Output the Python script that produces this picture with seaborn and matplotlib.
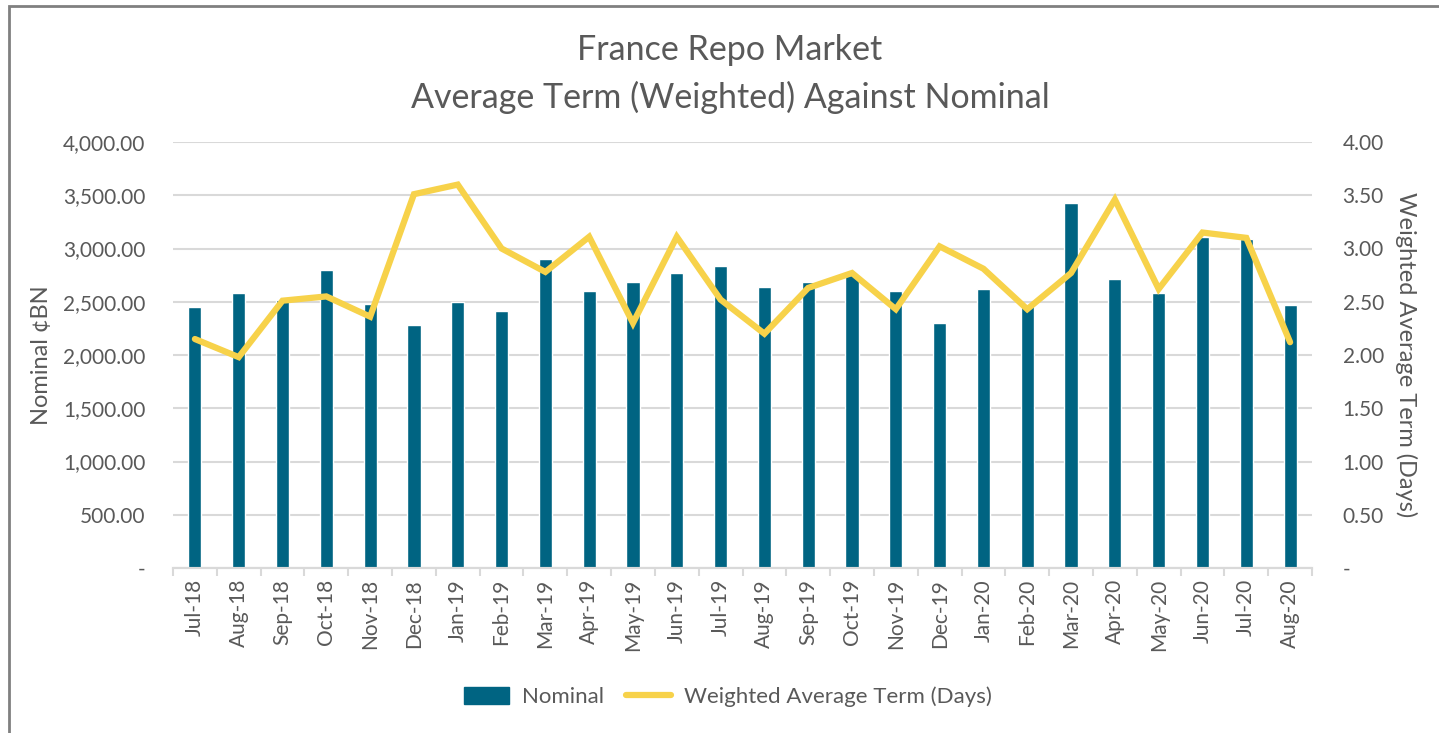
import numpy as np
import pandas as pd
import matplotlib
matplotlib.use("Agg")
import matplotlib.pyplot as plt
import seaborn as sns
from matplotlib.ticker import FuncFormatter, FixedLocator
from matplotlib.patches import Patch, Rectangle
from matplotlib.lines import Line2D

months = ["Jul-18", "Aug-18", "Sep-18", "Oct-18", "Nov-18", "Dec-18", "Jan-19",
          "Feb-19", "Mar-19", "Apr-19", "May-19", "Jun-19", "Jul-19", "Aug-19",
          "Sep-19", "Oct-19", "Nov-19", "Dec-19", "Jan-20", "Feb-20", "Mar-20",
          "Apr-20", "May-20", "Jun-20", "Jul-20", "Aug-20"]
nominal = [2450, 2580, 2520, 2800, 2480, 2280, 2500, 2410, 2900, 2600, 2690, 2770,
           2840, 2640, 2690, 2750, 2600, 2300, 2620, 2470, 3430, 2710, 2580, 3110,
           3090, 2470]
avg_term = [2.15, 1.98, 2.51, 2.55, 2.36, 3.51, 3.60, 3.00, 2.78, 3.11, 2.30, 3.11,
            2.52, 2.20, 2.63, 2.77, 2.43, 3.02, 2.81, 2.43, 2.77, 3.46, 2.62, 3.15,
            3.10, 2.12]

df = pd.DataFrame({"month": months, "nominal": nominal, "term": avg_term})

BAR = "#006482"
LINE = "#F7D24A"
TXT = "#595959"
GRID = "#D9D9D9"

sns.set_theme(style="white")
plt.rcParams["font.family"] = ["Lato", "DejaVu Sans"]

fig = plt.figure(figsize=(14.39, 7.33), dpi=100)
ax = fig.add_axes([173 / 1439, 1 - 568 / 733, (1312 - 173) / 1439, (568 - 142) / 733])

sns.barplot(data=df, x="month", y="nominal", color=BAR, width=0.3,
            saturation=1, ax=ax, zorder=2)
ax2 = ax.twinx()
sns.lineplot(data=df, x="month", y="term", color=LINE, linewidth=4.5, sort=False,
             ax=ax2, zorder=3)
ax2.lines[0].set_solid_capstyle("round")
ax2.lines[0].set_solid_joinstyle("miter")

n = len(months)
ax.set_xlim(-0.5, n - 0.5)
ax.set_ylim(0, 4000)
ax2.set_ylim(0, 4)
ax.set_yticks(np.arange(0, 4001, 500))
ax2.set_yticks(np.arange(0, 4.01, 0.5))
ax.yaxis.set_major_formatter(FuncFormatter(lambda v, p: "-" if v == 0 else f"{v:,.2f}"))
ax2.yaxis.set_major_formatter(FuncFormatter(lambda v, p: "-" if v == 0 else f"{v:.2f}"))

ax.grid(axis="y", color=GRID, linewidth=1.5, zorder=0)
ax.set_axisbelow(True)
for a in (ax, ax2):
    for s in ("top", "right", "left"):
        a.spines[s].set_visible(False)
    a.spines["bottom"].set_color(GRID)
    a.spines["bottom"].set_linewidth(1.5)

ax.tick_params(axis="x", which="major", length=0, pad=8, labelrotation=90,
               labelsize=15, labelcolor=TXT)
ax.xaxis.set_minor_locator(FixedLocator(np.arange(-0.5, n, 1.0)))
ax.tick_params(axis="x", which="minor", length=6, width=1.5, color=GRID, bottom=True)
ax.tick_params(axis="y", length=0, pad=20, labelsize=15, labelcolor=TXT)
ax2.tick_params(axis="y", length=0, pad=22, labelsize=15, labelcolor=TXT)

ax.set_xlabel("")
ax.set_ylabel("Nominal \u00a2BN", fontsize=17, color=TXT, labelpad=8)
ax2.set_ylabel("Weighted Average Term (Days)", fontsize=17, color=TXT,
               rotation=270, labelpad=24)

fig.text(730 / 1439, 1 - 50 / 733, "France Repo Market", ha="center", va="center",
         fontsize=24.5, color=TXT)
fig.text(730 / 1439, 1 - 97 / 733, "Average Term (Weighted) Against Nominal",
         ha="center", va="center", fontsize=24.5, color=TXT)

handles = [Patch(facecolor=BAR, edgecolor=BAR),
           Line2D([0], [0], color=LINE, linewidth=4.5, solid_capstyle="round")]
fig.legend(handles, ["Nominal", "Weighted Average Term (Days)"], loc="center",
           bbox_to_anchor=(728 / 1439, 1 - 697 / 733), ncol=2, frameon=False,
           fontsize=16, labelcolor=TXT, handlelength=2.0, handleheight=0.75,
           columnspacing=1.0, handletextpad=0.6)

fig.patches.append(Rectangle((9 / 1439, -0.1), 1.2, 1 - 6 / 733 + 0.1,
                             transform=fig.transFigure, fill=False,
                             edgecolor="#808080", linewidth=2))

fig.savefig("out.png", dpi=100)
